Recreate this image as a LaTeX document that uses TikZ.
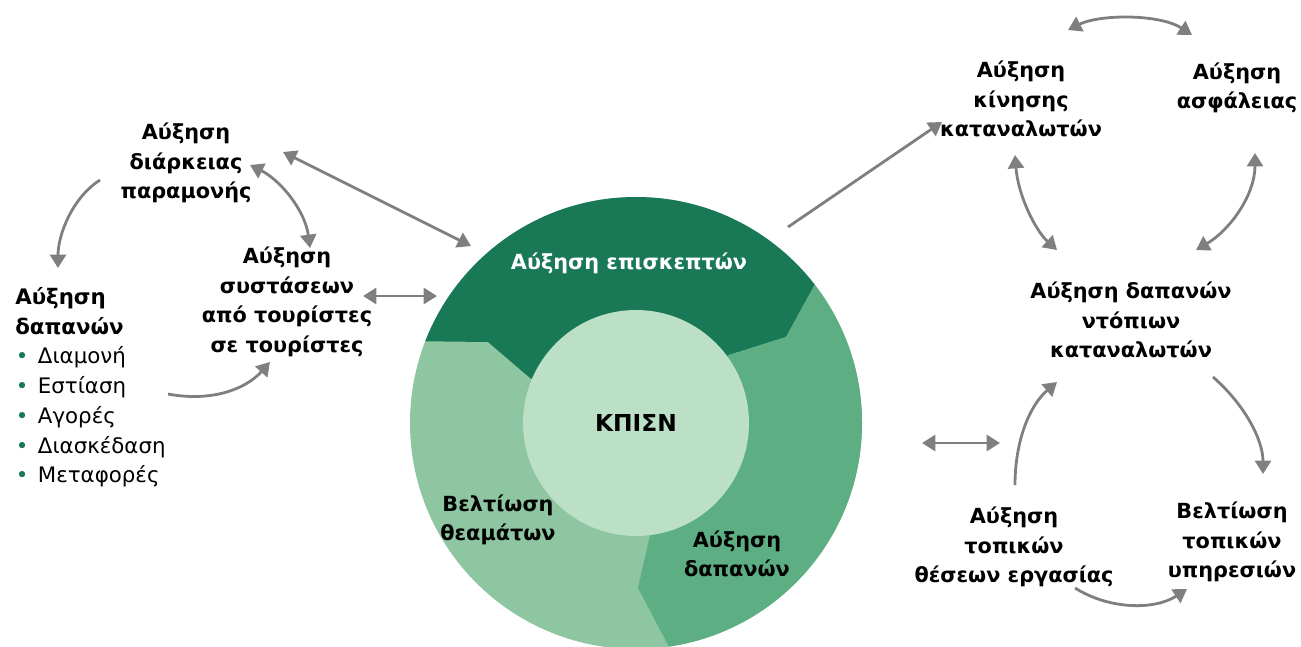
\documentclass[tikz,border=0pt]{standalone}
\usepackage{fontspec}
\setmainfont{DejaVu Sans}
\usetikzlibrary{arrows.meta}
\definecolor{dkgreen}{RGB}{25,121,86}
\definecolor{mdgreen}{RGB}{93,175,131}
\definecolor{ltgreen}{RGB}{141,198,160}
\definecolor{ingreen}{RGB}{188,224,198}
\definecolor{arrowgray}{RGB}{127,127,127}
\begin{document}
\begin{tikzpicture}[x=0.75pt,y=-0.75pt,
  lbl/.style={font=\fontsize{15.6pt}{22.2pt}\selectfont\bfseries, align=center, inner sep=0pt},
  plain/.style={font=\fontsize{16pt}{22.3pt}\selectfont, align=left, inner sep=0pt},
  tip/.tip={Triangle[length=10pt,width=12pt]},
  conn/.style={draw=arrowgray, line width=2.1pt, -tip},
  both/.style={draw=arrowgray, line width=2.1pt, tip-tip},
]
\useasboundingbox (0,0) rectangle (1301,646);

% ---- central cycle ----
\fill[ltgreen] (636,423) circle (226);
\begin{scope}
  \clip (636,423) circle (226);
  \fill[dkgreen] (530,378) -- (488,342) -- (400,341) -- (400,150) -- (880,150)
     -- (842,235) -- (786,337) -- (729,355) -- (636,423) -- cycle;
  \fill[mdgreen] (729,355) -- (786,337) -- (842,235) -- (900,235) -- (900,700)
     -- (697,700) -- (667,643) -- (638,588) -- (650,535) -- (636,423) -- cycle;
\end{scope}
\fill[ingreen] (636,423) circle (113);

\node[lbl, text=white] (vis) at (629,263) {Αύξηση επισκεπτών};
\node[font=\fontsize{17.5pt}{20pt}\selectfont\bfseries, inner sep=0pt] (kpisn) at (636,423) {ΚΠΙΣΝ};
\node[lbl] (show) at (498,520) {Βελτίωση\\θεαμάτων};
\node[lbl] (spd) at (737,554) {Αύξηση\\δαπανών};

% ---- left labels ----
\node[lbl] (dur) at (186,163) {Αύξηση\\διάρκειας\\παραμονής};
\node[lbl] (rec) at (287,302) {Αύξηση\\συστάσεων\\από τουρίστες\\σε τουρίστες};
\node[plain, anchor=north west] (list) at (15,287) {%
  \textbf{Αύξηση}\\
  \textbf{δαπανών}\\
  \makebox[17pt][l]{\hspace{0.5pt}\textcolor{dkgreen}{•}}Διαμονή\\
  \makebox[17pt][l]{\hspace{0.5pt}\textcolor{dkgreen}{•}}Εστίαση\\
  \makebox[17pt][l]{\hspace{0.5pt}\textcolor{dkgreen}{•}}Αγορές\\
  \makebox[17pt][l]{\hspace{0.5pt}\textcolor{dkgreen}{•}}Διασκέδαση\\
  \makebox[17pt][l]{\hspace{0.5pt}\textcolor{dkgreen}{•}}Μεταφορές};

% ---- right labels ----
\node[lbl] (mov) at (1021,99) {Αύξηση\\κίνησης\\καταναλωτών};
\node[lbl] (saf) at (1237,88) {Αύξηση\\ασφάλειας};
\node[lbl] (loc) at (1131,320) {Αύξηση δαπανών\\ντόπιων\\καταναλωτών};
\node[lbl] (job) at (1014,547) {Αύξηση\\τοπικών\\θέσεων εργασίας};
\node[lbl] (srv) at (1232,542) {Βελτίωση\\τοπικών\\υπηρεσιών};

% ---- connector end points ----
\coordinate (durR) at (283,152);  \coordinate (visL) at (471,246);
\coordinate (recR) at (363,296);  \coordinate (visW) at (437,296);
\coordinate (durB) at (250,165);  \coordinate (recT) at (310,248);
\coordinate (durL) at (100,180);  \coordinate (listT) at (58,268);
\coordinate (listR) at (168,394); \coordinate (recB) at (270,362);
\coordinate (visR) at (788,227);  \coordinate (movL) at (942,122);
\coordinate (movT) at (1068,30);  \coordinate (safT) at (1192,35);
\coordinate (movB) at (1015,155); \coordinate (locL) at (1057,250);
\coordinate (safB) at (1255,153); \coordinate (locR) at (1196,250);
\coordinate (locB) at (1213,377); \coordinate (srvT) at (1263,474);
\coordinate (jobT) at (1015,485); \coordinate (locBL) at (1057,382);
\coordinate (jobB) at (1075,588); \coordinate (srvB) at (1187,589);
\coordinate (spdR) at (922,443);  \coordinate (jobL) at (1000,443);

% ---- connectors ----
\draw[both] (durR) -- (visL);
\draw[both] (recR) -- (visW);
\draw[both] (durB) .. controls (280,180) and (305,210) .. (recT);
\draw[conn] (durL) .. controls (72,198) and (58,235) .. (listT);
\draw[conn] (listR) .. controls (210,402) and (245,390) .. (recB);
\draw[conn] (visR) -- (movL);
\draw[both] (movT) .. controls (1100,14) and (1160,14) .. (safT);
\draw[both] (movB) .. controls (1018,195) and (1035,230) .. (locL);
\draw[both] (safB) .. controls (1255,195) and (1230,230) .. (locR);
\draw[conn] (locB) .. controls (1245,405) and (1263,440) .. (srvT);
\draw[conn] (jobT) .. controls (1015,440) and (1030,405) .. (locBL);
\draw[conn] (jobB) .. controls (1110,610) and (1155,610) .. (srvB);
\draw[both] (spdR) -- (jobL);
\end{tikzpicture}
\end{document}
